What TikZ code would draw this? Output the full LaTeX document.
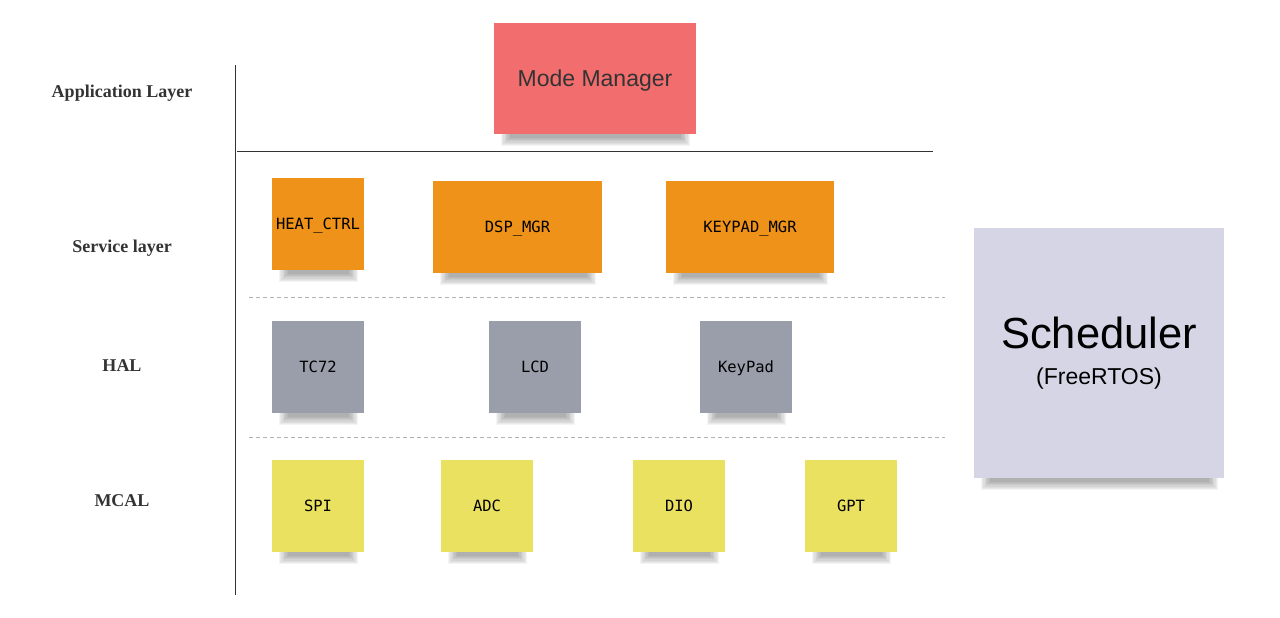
\documentclass[tikz,border=0pt]{standalone}
\usepackage{fontspec}
\setmainfont{Liberation Serif}
\setsansfont{Liberation Sans}
\setmonofont{DejaVu Sans Mono}
\usetikzlibrary{calc}
\pgfdeclarelayer{bg}
\pgfdeclarelayer{shade}
\pgfsetlayers{bg,shade,main}
\definecolor{modered}{HTML}{F26D6D}
\definecolor{svcorange}{HTML}{EF9219}
\definecolor{halgray}{HTML}{9A9EAA}
\definecolor{mcalyellow}{HTML}{EAE160}
\definecolor{schedlilac}{HTML}{D6D5E6}
\definecolor{labelgray}{HTML}{333333}
\tikzset{
  note/.style={inner sep=0pt, font=\fontsize{15.5}{18}\selectfont\ttfamily, text depth=0pt},
  layer/.style={font=\fontsize{18}{20}\selectfont\bfseries, text=labelgray},
  sep/.style={gray!60, dashed, dash pattern=on 4pt off 3pt},
  notesh/.style={black, opacity=.045}
}
% soft shadow strip under a note
\newcommand\noteshadow[1]{%
  \foreach \k in {0,...,7}
    \fill[notesh] ($(#1.south west)+(7+1.3*\k,-4)$) rectangle ($(#1.south east)+(-6-1.3*\k,12-1.2*\k)$);}
\begin{document}
\begin{tikzpicture}[x=1pt,y=-1pt]
\begin{pgfonlayer}{bg}
\fill[white] (0,0) rectangle (1280,618);
\end{pgfonlayer}
\useasboundingbox (0,0) rectangle (1280,618);
% layer names
\node[layer] (app) at (122,93) {Application Layer};
\node[layer] (svc) at (122,248) {Service layer};
\node[layer] (hal) at (122,366) {HAL};
\node[layer] (mcal) at (122,501) {MCAL};
% separators
\draw[black!80] (235,65) -- (235,595);
\draw[black!80] (237,151) -- (933,151);
\draw[sep] (249,297) -- (945,297);
\draw[sep] (249,437) -- (945,437);
% application
\node[note, fill=modered, minimum width=202pt, minimum height=111pt,
  font=\fontsize{23}{26}\selectfont\sffamily, text=labelgray] (modemgr) at (595,78.5) {Mode Manager};
% service layer
\node[note, fill=svcorange, minimum width=92pt, minimum height=92pt] (heatctrl) at (318,224) {HEAT\_CTRL};
\node[note, fill=svcorange, minimum width=169pt, minimum height=92pt] (dspmgr) at (517.5,227) {DSP\_MGR};
\node[note, fill=svcorange, minimum width=168pt, minimum height=92pt] (keypadmgr) at (750,227) {KEYPAD\_MGR};
% HAL
\node[note, fill=halgray, minimum width=92pt, minimum height=92pt] (tc72) at (318,367) {TC72};
\node[note, fill=halgray, minimum width=92pt, minimum height=92pt] (lcd) at (535,367) {LCD};
\node[note, fill=halgray, minimum width=92pt, minimum height=92pt] (keypad) at (746,367) {KeyPad};
% MCAL
\node[note, fill=mcalyellow, minimum width=92pt, minimum height=92pt] (spi) at (318,506) {SPI};
\node[note, fill=mcalyellow, minimum width=92pt, minimum height=92pt] (adc) at (487,506) {ADC};
\node[note, fill=mcalyellow, minimum width=92pt, minimum height=92pt] (dio) at (679,506) {DIO};
\node[note, fill=mcalyellow, minimum width=92pt, minimum height=92pt] (gpt) at (851,506) {GPT};
% scheduler
\node[inner sep=0pt, fill=schedlilac, minimum width=250pt, minimum height=250pt, align=center,
  font=\fontsize{23}{36}\selectfont\sffamily] (sched) at (1099,353)
  {{\fontsize{43.5}{50}\selectfont Scheduler}\\(FreeRTOS)};
% shadows under the notes
\begin{pgfonlayer}{shade}
\foreach \n in {modemgr,heatctrl,dspmgr,keypadmgr,tc72,lcd,keypad,spi,adc,dio,gpt,sched}
  \noteshadow{\n};
\end{pgfonlayer}
\end{tikzpicture}
\end{document}
